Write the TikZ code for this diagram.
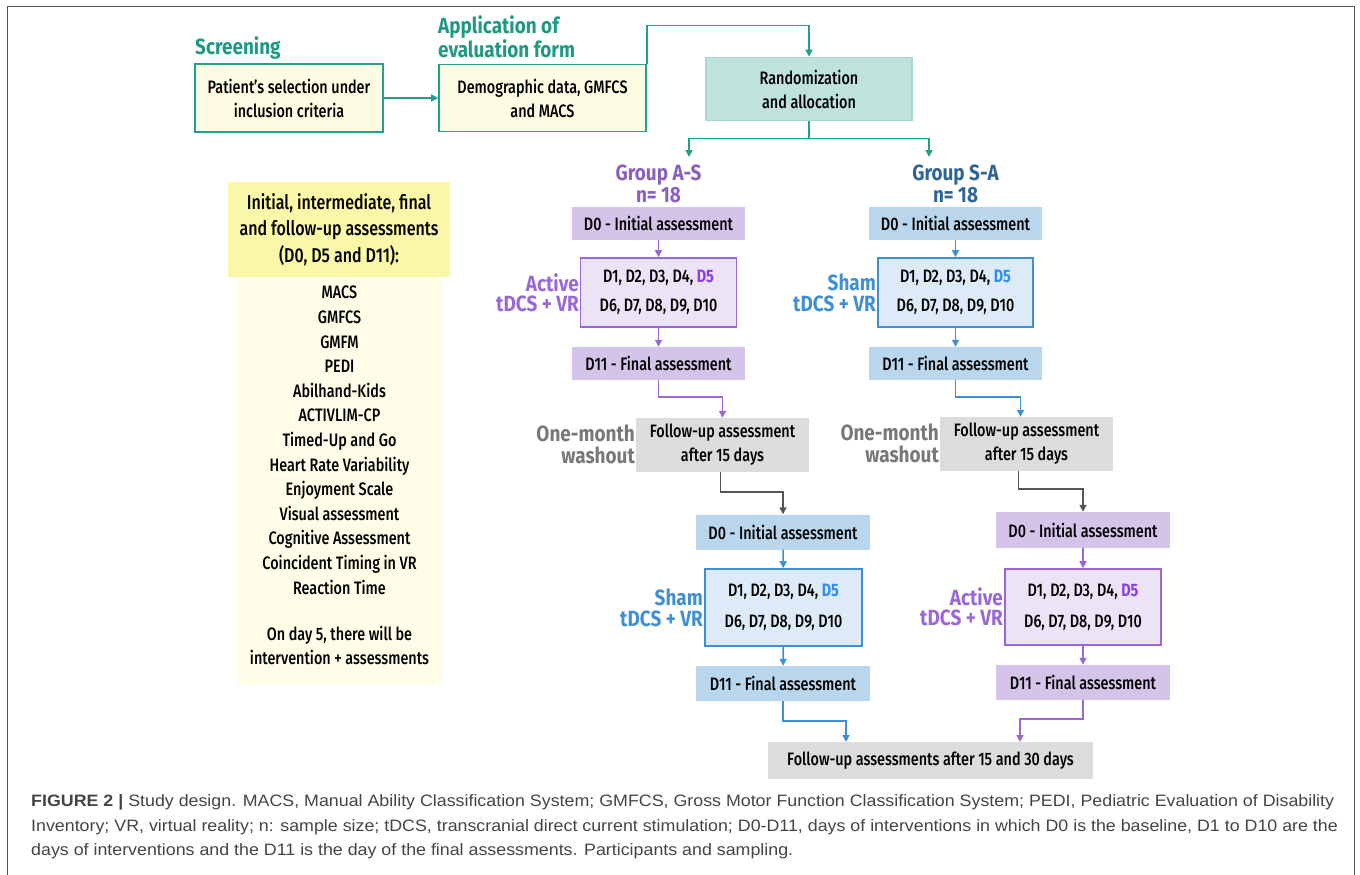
\documentclass[tikz,border=0pt]{standalone}
\usepackage{fontspec}
\usepackage{xcolor}
\usepackage{tikz}
\usetikzlibrary{arrows.meta,positioning,calc}

\newfontfamily\dfont{Fira Sans Medium}[FakeStretch=0.8,BoldFont={Fira Sans Bold}]
\newfontfamily\lfont{Fira Sans Bold}[FakeStretch=0.86]
\newfontfamily\capfont{Liberation Sans}[FakeStretch=1.08]

\definecolor{tealc}{HTML}{23A089}
\definecolor{tealt}{HTML}{1E9A84}
\definecolor{creamf}{HTML}{FDFDE3}
\definecolor{randf}{HTML}{BFE3DC}
\definecolor{randd}{HTML}{A3D8CD}
\definecolor{purD}{HTML}{D5C4EA}
\definecolor{purL}{HTML}{EDE3F7}
\definecolor{purB}{HTML}{9A68D6}
\definecolor{purG}{HTML}{8A60BE}
\definecolor{purH}{HTML}{8A3CF0}
\definecolor{bluD}{HTML}{BAD6EC}
\definecolor{bluL}{HTML}{DCEBF7}
\definecolor{bluB}{HTML}{3F8FD4}
\definecolor{bluG}{HTML}{2F6596}
\definecolor{bluH}{HTML}{2F8FF0}
\definecolor{greyF}{HTML}{DCDCDC}
\definecolor{greyT}{HTML}{787878}
\definecolor{greyA}{HTML}{555555}
\definecolor{yelH}{HTML}{FBF7A8}
\definecolor{yelP}{HTML}{FEFDE7}
\definecolor{capc}{HTML}{444444}

\begin{document}
\begin{tikzpicture}[x=1pt,y=-1pt,
    every node/.style={inner sep=0pt,align=center,font=\dfont\fontsize{18}{24}\selectfont},
    >={Triangle[length=7pt,width=7pt]},
    conn/.style={->,line width=1.6pt},
    tealbox/.style={draw=tealc,line width=1.6pt,fill=creamf},
    randbox/.style={draw=randd,line width=1.6pt,fill=randf},
    pdark/.style={fill=purD},
    plight/.style={draw=purB,line width=1.6pt,fill=purL},
    bdark/.style={fill=bluD},
    blight/.style={draw=bluB,line width=1.6pt,fill=bluL},
    greybox/.style={fill=greyF},
    biglab/.style={font=\lfont\fontsize{22}{22}\selectfont},
    captext/.style={anchor=west,text=capc,font=\capfont\fontsize{16.5}{18}\selectfont}]
\useasboundingbox (0,0) rectangle (1360,875);

% frame
\draw[greyA,line width=1.4pt] (7.5,875) -- (7.5,6.5) -- (1354.5,6.5) -- (1354.5,875);

% top row
\node[biglab,text=tealt,anchor=west] (scrlab) at (195,48) {Screening};
\node[tealbox,minimum width=188,minimum height=68] (scr) at (289,98)
    {Patient’s selection under\\inclusion criteria};
\node[biglab,text=tealt,anchor=south west,align=left,font=\lfont\fontsize{22}{21}\selectfont] (formlab) at (438,58)
    {Application of\\evaluation form};
\node[tealbox,minimum width=207,minimum height=67] (form) at (542.5,98)
    {Demographic data, GMFCS\\and MACS};
\node[randbox,minimum width=206,minimum height=63] (rand) at (809,89)
    {Randomization\\and allocation};

\draw[conn,tealc] (scr) -- (form);
\draw[conn,tealc] (form.north east) -- ++(0,-38) -| (rand.north);

\coordinate (gASin) at (689,157);
\coordinate (gSAin) at (929,157);
\draw[conn,tealc] (rand.south) -- ++(0,17) -| (gASin);
\draw[conn,tealc] (rand.south) -- ++(0,17) -| (gSAin);

% group labels
\node[biglab,text=purG] (gAS) at (658.5,184) {Group A-S\\n= 18};
\node[biglab,text=bluG] (gSA) at (955.5,184) {Group S-A\\n= 18};

% group A-S, first period
\node[pdark,minimum width=173,minimum height=33] (as0) at (658.5,223) {D0 - Initial assessment};
\node[plight,minimum width=156,minimum height=69] (as1) at (658.5,292.5)
    {D1, D2, D3, D4, {\bfseries\color{purH}D5}\\[5pt]D6, D7, D8, D9, D10};
\node[biglab,text=purB,anchor=east,align=right,font=\lfont\fontsize{22}{20.5}\selectfont] (asact) at (579,293) {Active\\tDCS + VR};
\node[pdark,minimum width=173,minimum height=33] (as11) at (658.5,363.5) {D11 - Final assessment};
\node[greybox,minimum width=173,minimum height=54] (asfu) at (722.5,445)
    {Follow-up assessment\\after 15 days};
\node[biglab,text=greyT,anchor=east,align=right] (aswash) at (635,444) {One-month\\washout};

\draw[conn,purB] (as0) -- (as1);
\draw[conn,purB] (as1) -- (as11);
\draw[conn,purB] (as11.south) -- ++(0,17) -| (asfu.north);

% group S-A, first period
\node[bdark,minimum width=173,minimum height=33] (sa0) at (955.5,223) {D0 - Initial assessment};
\node[blight,minimum width=155,minimum height=69] (sa1) at (955.5,292.5)
    {D1, D2, D3, D4, {\bfseries\color{bluH}D5}\\[5pt]D6, D7, D8, D9, D10};
\node[biglab,text=bluB,anchor=east,align=right,font=\lfont\fontsize{22}{20.5}\selectfont] (sasham) at (876,293) {Sham\\tDCS + VR};
\node[bdark,minimum width=173,minimum height=33] (sa11) at (955.5,363.5) {D11 - Final assessment};
\node[greybox,minimum width=173,minimum height=54] (safu) at (1026.5,444)
    {Follow-up assessment\\after 15 days};
\node[biglab,text=greyT,anchor=east,align=right] (sawash) at (939,443) {One-month\\washout};

\draw[conn,bluB] (sa0) -- (sa1);
\draw[conn,bluB] (sa1) -- (sa11);
\draw[conn,bluB] (sa11.south) -- ++(0,17) -| ($(safu.north)+(-6,0)$);

% second period, left
\node[bdark,minimum width=174,minimum height=35] (bs0) at (783,532) {D0 - Initial assessment};
\node[blight,minimum width=157,minimum height=77] (bs1) at (783.5,607.5)
    {D1, D2, D3, D4, {\bfseries\color{bluH}D5}\\[7pt]D6, D7, D8, D9, D10};
\node[biglab,text=bluB,anchor=east,align=right,font=\lfont\fontsize{22}{20.5}\selectfont] (bssham) at (703,608) {Sham\\tDCS + VR};
\node[bdark,minimum width=174,minimum height=35] (bs11) at (783,683.5) {D11 - Final assessment};

\draw[conn,greyA] ($(asfu.south)+(-2,0)$) -- ++(0,20) -| (bs0.north);
\draw[conn,bluB] (bs0) -- (bs1);
\draw[conn,bluB] (bs1) -- (bs11);

% second period, right
\node[pdark,minimum width=174,minimum height=36] (ba0) at (1083,530) {D0 - Initial assessment};
\node[plight,minimum width=156,minimum height=76] (ba1) at (1083,607)
    {D1, D2, D3, D4, {\bfseries\color{purH}D5}\\[7pt]D6, D7, D8, D9, D10};
\node[biglab,text=purB,anchor=east,align=right,font=\lfont\fontsize{22}{20.5}\selectfont] (baact) at (1003,607) {Active\\tDCS + VR};
\node[pdark,minimum width=174,minimum height=35] (ba11) at (1083,682.5) {D11 - Final assessment};

\draw[conn,greyA] ($(safu.south)+(-8,0)$) -- ++(0,18) -| (ba0.north);
\draw[conn,purB] (ba0) -- (ba1);
\draw[conn,purB] (ba1) -- (ba11);

% follow-up after both periods
\node[greybox,minimum width=325,minimum height=37] (fin) at (930.5,760.5)
    {Follow-up assessments after 15 and 30 days};
\coordinate (finL) at (846,742);
\coordinate (finR) at (1020,742);
\draw[conn,bluB] (bs11.south) -- ++(0,20) -| (finL);
\draw[conn,purB] (ba11.south) -- ++(0,19) -| (finR);

% assessment panel
\node[fill=yelP,minimum width=205,minimum height=408,anchor=north] (panel) at (339.5,277) {};
\node[fill=yelH,minimum width=222,minimum height=95,anchor=north,font=\dfont\fontsize{20}{26.5}\selectfont] (panhead) at (339,182)
    {Initial, intermediate, final\\and follow-up assessments\\(D0, D5 and D11):};
\node[anchor=north,font=\dfont\fontsize{18}{24.6}\selectfont] (panlist) at (339.5,286)
    {MACS\\GMFCS\\GMFM\\PEDI\\Abilhand-Kids\\ACTIVLIM-CP\\Timed-Up and Go\\Heart Rate Variability\\Enjoyment Scale\\Visual assessment\\Cognitive Assessment\\Coincident Timing in VR\\Reaction Time\\[21.4pt]On day 5, there will be\\intervention + assessments};

% caption
\node[captext] (cap1) at (31,802)
    {\textbf{FIGURE 2 |} Study design. MACS, Manual Ability Classification System; GMFCS, Gross Motor Function Classification System; PEDI, Pediatric Evaluation of Disability};
\node[captext] (cap2) at (31,827)
    {Inventory; VR, virtual reality; n: sample size; tDCS, transcranial direct current stimulation; D0-D11, days of interventions in which D0 is the baseline, D1 to D10 are the};
\node[captext] (cap3) at (31,851)
    {days of interventions and the D11 is the day of the final assessments. Participants and sampling.};
\end{tikzpicture}
\end{document}
